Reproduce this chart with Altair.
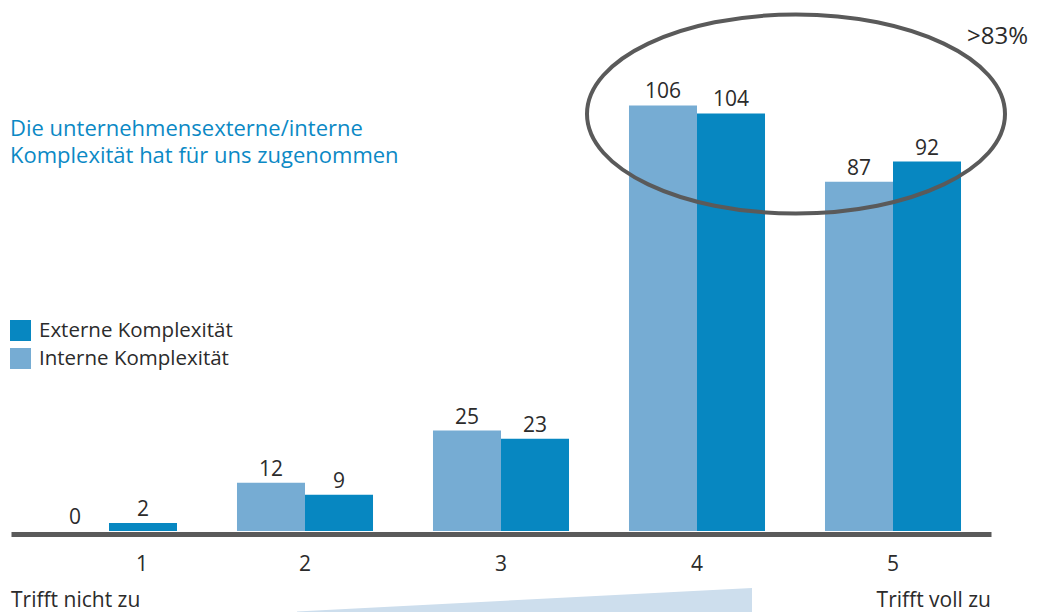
import altair as alt
import pandas as pd

# Survey answers per agreement level (1 = trifft nicht zu ... 5 = trifft voll zu)
categories = ["1", "2", "3", "4", "5"]
interne = [0, 12, 25, 106, 87]
externe = [2, 9, 23, 104, 92]
series = ["Interne Komplexität", "Externe Komplexität"]
colors = ["#76acd3", "#0787c1"]

title_lines = ["Die unternehmensexterne/interne", "Komplexität hat für uns zugenommen"]
scale_low = "Trifft nicht zu"
scale_high = "Trifft voll zu"
share_note = ">83%"

rows = []
for c, i, e in zip(categories, interne, externe):
    rows.append({"Stufe": c, "Reihe": series[0], "Anzahl": i})
    rows.append({"Stufe": c, "Reihe": series[1], "Anzahl": e})
df = pd.DataFrame(rows)

FONT = "Open Sans"
TXT = "#2b2b2b"
W, H = 980, 526

x = alt.X(
    "Stufe:N",
    sort=categories,
    scale=alt.Scale(paddingInner=0.306, paddingOuter=0.153),
    axis=alt.Axis(
        title=None, labelAngle=0, ticks=False, grid=False,
        domainWidth=5, domainColor="#5a5a5a", offset=3,
        labelFontSize=21, labelColor=TXT, labelFont=FONT, labelPadding=19,
        # the first level's label sits under its single visible bar
        labelOffset={"condition": {"test": "datum.value == '1'", "value": 33}, "value": 0},
    ),
)
xoff = alt.XOffset("Reihe:N", sort=series, scale=alt.Scale(domain=series))
y = alt.Y("Anzahl:Q", scale=alt.Scale(domain=[0, 131]), axis=None)
color = alt.Color(
    "Reihe:N",
    scale=alt.Scale(domain=series, range=colors),
    legend=alt.Legend(
        title=None, orient="none", legendX=-1, legendY=315,
        values=[series[1], series[0]],
        symbolType="square", symbolSize=441, symbolStrokeWidth=0, symbolOpacity=1,
        labelFont=FONT, labelFontSize=20.5, labelColor=TXT, labelOffset=8,
        labelLimit=400, rowPadding=7, padding=0,
    ),
)

base = alt.Chart(df)
bars = base.mark_bar().encode(x=x, xOffset=xoff, y=y, color=color)
values = base.mark_text(
    dy=-7, baseline="alphabetic", fontSize=21, font=FONT, color=TXT
).encode(x=x, xOffset=xoff, y=y, text="Anzahl:Q")

one = pd.DataFrame({"k": [0]})

heading = alt.Chart(pd.DataFrame({"t": [title_lines]})).mark_text(
    align="left", baseline="alphabetic", fontSize=22, font=FONT,
    color="#0b89c5", lineHeight=27,
).encode(x=alt.value(-1), y=alt.value(130.5), text="t")

note = alt.Chart(pd.DataFrame({"t": [share_note]})).mark_text(
    align="left", baseline="alphabetic", fontSize=24, font=FONT, color=TXT
).encode(x=alt.value(956), y=alt.value(39), text="t")

low = alt.Chart(pd.DataFrame({"t": [scale_low]})).mark_text(
    align="left", baseline="alphabetic", fontSize=21, font=FONT, color=TXT
).encode(x=alt.value(0), y=alt.value(602), text="t")

high = alt.Chart(pd.DataFrame({"t": [scale_high]})).mark_text(
    align="right", baseline="alphabetic", fontSize=21, font=FONT, color=TXT
).encode(x=alt.value(980), y=alt.value(602), text="t")

# light wedge hinting at rising agreement
wedge = alt.Chart(one).mark_point(
    shape="M -1 0.05 L 1 -0.053 L 1 0.07 L -1 0.07 Z",
    filled=True, fill="#cddeed", opacity=1, strokeWidth=0,
).encode(x=alt.value(513.5), y=alt.value(595), size=alt.value(207025))

# ring around the two top levels
ring = alt.Chart(one).mark_point(
    shape="M -1 0 A 1 0.476 0 1 1 1 0 A 1 0.476 0 1 1 -1 0 Z",
    filled=False, stroke="#5a5a5a", strokeWidth=4, opacity=1,
).encode(x=alt.value(785), y=alt.value(109), size=alt.value(174724))

chart = alt.layer(wedge, bars, values, heading, note, low, high, ring).properties(
    width=W, height=H,
    autosize=alt.AutoSizeParams(type="none"),
    padding={"left": 11, "top": 5, "right": 47, "bottom": 81},
).configure_view(stroke=None)

chart.save("out.html", embed_options={"renderer": "svg", "actions": False})
